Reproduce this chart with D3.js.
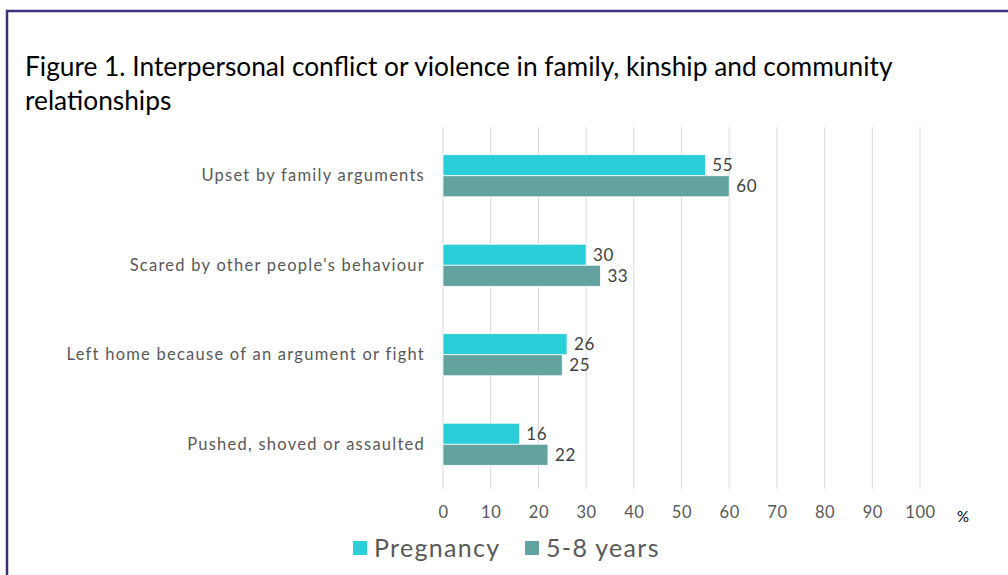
<!DOCTYPE html>
<html>
<head>
<meta charset="utf-8">
<script src="https://cdn.jsdelivr.net/npm/d3@7/dist/d3.min.js"></script>
<style>
  html, body { margin: 0; padding: 0; background: #fff; }
  svg { display: block; }
  text { font-family: "Lato", "Open Sans", sans-serif; }
</style>
</head>
<body>
<svg id="chart" width="1008" height="575"></svg>
<script>
// Categories, top to bottom
const categories = [
  "Upset by family arguments",
  "Scared by other people's behaviour",
  "Left home because of an argument or fight",
  "Pushed, shoved or assaulted"
];
// Series values (%)
const pregnancy = [55, 30, 26, 16];
const years58 = [60, 33, 25, 22];
const seriesNames = ["Pregnancy", "5-8 years"];
const xTicks = [0, 10, 20, 30, 40, 50, 60, 70, 80, 90, 100];

const colors = ["#29CED8", "#62A39F"];
const series = [pregnancy, years58];

const svg = d3.select("#chart");
const W = 1008, H = 575;
const margin = { left: 443, right: 88, top: 131, bottom: 86 };

// Frame
svg.append("path")
  .attr("d", `M7,${H + 5} L7,11 L${W + 5},11`)
  .attr("fill", "none")
  .attr("stroke", "#3F2E7C")
  .attr("stroke-width", 2.5);

// Title
const title = svg.append("text")
  .attr("font-size", 26.3)
  .attr("fill", "#000");
title.append("tspan").attr("x", 25).attr("y", 76)
  .text("Figure 1. Interpersonal conflict or violence in family, kinship and community");
title.append("tspan").attr("x", 25).attr("y", 110)
  .text("relationships");

const x = d3.scaleLinear().domain([0, 100]).range([margin.left, W - margin.right]);
const y = d3.scaleBand().domain(categories).range([margin.top, H - margin.bottom]).paddingInner(0.53).paddingOuter(0.265);
const ySub = d3.scaleBand().domain([0, 1]).range([0, y.bandwidth()]);

// Gridlines
svg.append("g")
  .selectAll("line")
  .data(xTicks)
  .join("line")
  .attr("x1", d => x(d)).attr("x2", d => x(d))
  .attr("y1", margin.top - 4).attr("y2", H - margin.bottom)
  .attr("stroke", "#D9D9D9")
  .attr("stroke-width", 1);

// X axis tick labels
const xAxis = d3.axisBottom(x).tickValues(xTicks).tickSize(0).tickPadding(12);
const gx = svg.append("g")
  .attr("transform", `translate(0,${H - margin.bottom + 5})`)
  .call(xAxis);
gx.select(".domain").remove();
gx.selectAll("text")
  .attr("font-family", "Lato, sans-serif")
  .attr("font-size", 16.5)
  .attr("letter-spacing", 0.6)
  .attr("fill", "#595959");

svg.append("text")
  .attr("x", 963).attr("y", 522)
  .attr("text-anchor", "middle")
  .attr("font-size", 15)
  .attr("fill", "#000")
  .text("%");

// Category labels
const yAxis = d3.axisLeft(y).tickSize(0).tickPadding(18);
const gy = svg.append("g")
  .attr("transform", `translate(${margin.left},0)`)
  .call(yAxis);
gy.select(".domain").remove();
gy.selectAll("text")
  .attr("font-family", "Lato, sans-serif")
  .attr("font-size", 16.5)
  .attr("letter-spacing", 1.25)
  .attr("fill", "#595959");

// Bars
const groups = svg.append("g")
  .selectAll("g")
  .data(categories)
  .join("g")
  .attr("transform", d => `translate(0,${y(d)})`);

series.forEach((vals, si) => {
  groups.append("rect")
    .attr("x", x(0))
    .attr("y", ySub(si))
    .attr("width", (d, i) => x(vals[i]) - x(0))
    .attr("height", ySub.bandwidth())
    .attr("fill", colors[si])
    .attr("stroke", "#fff")
    .attr("stroke-width", 0.75);
  groups.append("text")
    .attr("x", (d, i) => x(vals[i]) + 7)
    .attr("y", ySub(si) + ySub.bandwidth() / 2)
    .attr("dy", "0.36em")
    .attr("font-size", 17)
    .attr("letter-spacing", 0.6)
    .attr("fill", "#404040")
    .text((d, i) => vals[i]);
});

// Legend
const legend = svg.append("g").attr("transform", "translate(353,548)");
const legendX = [0, 172];
seriesNames.forEach((name, i) => {
  const g = legend.append("g").attr("transform", `translate(${legendX[i]},0)`);
  g.append("rect").attr("x", 0).attr("y", -7).attr("width", 14).attr("height", 14).attr("fill", colors[i]);
  g.append("text").attr("x", 21).attr("y", 0).attr("dy", "0.36em")
    .attr("font-size", 25).attr("letter-spacing", 1.3)
    .attr("fill", "#595959").text(name);
});
</script>
</body>
</html>
